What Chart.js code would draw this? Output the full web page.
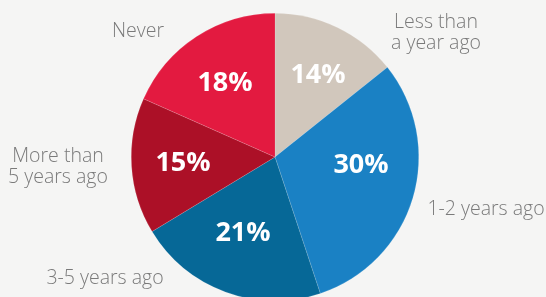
<!DOCTYPE html>
<html>
<head>
<meta charset="utf-8">
<script src="https://cdn.jsdelivr.net/npm/chart.js@4.4.1/dist/chart.umd.min.js"></script>
<style>
  html, body { margin: 0; padding: 0; background: #f5f5f4; overflow: hidden; }
  #wrap { width: 546px; height: 297px; overflow: hidden; }
</style>
</head>
<body>
<div id="wrap"><canvas id="pie" width="546" height="316"></canvas></div>
<script>
const categories = ['Less than\na year ago', '1-2 years ago', '3-5 years ago', 'More than\n5 years ago', 'Never'];
const shares = [14, 30, 21, 15, 18];
const sliceColors = ['#d1c7bc', '#1a81c4', '#066897', '#ac1027', '#e31a40'];

// where the texts sit, as offsets from the pie centre (px)
const pctOffsets = [[43, -82], [86, 8], [-32, 76], [-92, 6], [-50, -74]];
const nameOffsets = [[161, -124], [211, 52], [-170, 121], [-217, 10], [-137, -126]];

const labelPlugin = {
    id: 'sliceLabels',
    afterDatasetsDraw(chart) {
        const ctx = chart.ctx;
        const arcs = chart.getDatasetMeta(0).data;
        const cx = arcs[0].x;
        const cy = arcs[0].y;
        ctx.save();
        ctx.textAlign = 'center';
        ctx.textBaseline = 'middle';
        shares.forEach((v, i) => {
            ctx.fillStyle = '#ffffff';
            ctx.font = 'bold 27px "Open Sans"';
            ctx.fillText(v + '%', cx + pctOffsets[i][0], cy + pctOffsets[i][1]);

            ctx.fillStyle = '#7a7a7a';
            ctx.font = '300 19.5px "Open Sans"';
            const lines = categories[i].split('\n');
            const lh = 21;
            const top = cy + nameOffsets[i][1] - (lines.length - 1) * lh / 2;
            lines.forEach((line, j) => {
                ctx.fillText(line, cx + nameOffsets[i][0], top + j * lh);
            });
        });
        ctx.restore();
    }
};

new Chart(document.getElementById('pie'), {
    type: 'pie',
    data: {
        labels: categories,
        datasets: [{
            data: shares,
            backgroundColor: sliceColors,
            borderColor: 'rgba(255,255,255,0.25)',
            borderWidth: 0.5
        }]
    },
    options: {
        responsive: false,
        animation: false,
        devicePixelRatio: 1,
        layout: { padding: { left: 131, right: 127, top: 13, bottom: 15 } },
        plugins: {
            legend: { display: false },
            tooltip: { enabled: false }
        }
    },
    plugins: [labelPlugin]
});
</script>
</body>
</html>
